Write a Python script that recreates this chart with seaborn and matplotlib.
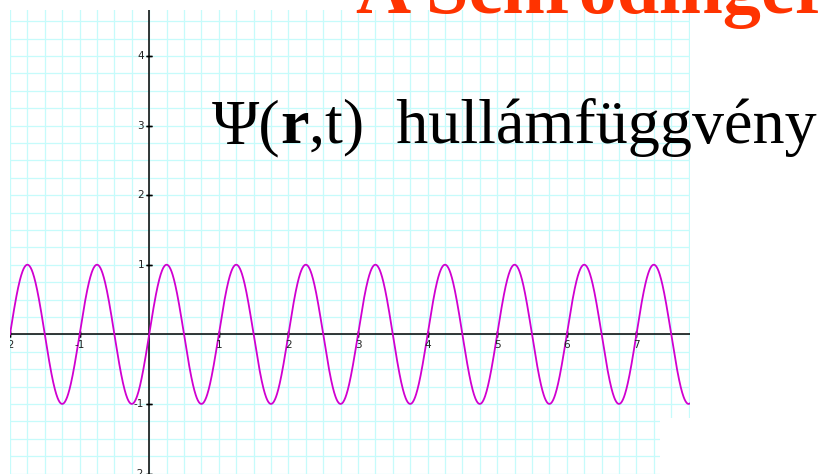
import numpy as np
import pandas as pd
import matplotlib
matplotlib.use("Agg")
import matplotlib.pyplot as plt
from matplotlib.patches import Rectangle
import seaborn as sns

# Wave parameters: psi(x) = A * sin(2*pi*x / period)
amplitude = 1.0
period = 1.0
x_range = [-2.0, 7.77]
y_range = [-2.007, 4.66]

x_tick_values = [-2, -1, 1, 2, 3, 4, 5, 6, 7]
y_tick_values = [-2, -1, 1, 2, 3, 4]
grid_step = 0.25

title_text = "A Schrödinger"
label_parts = ["Ψ(", "r", ",t)  hullámfüggvény"]

x = np.linspace(x_range[0], x_range[1], 2000)
wave = pd.DataFrame({"x": x, "psi": amplitude * np.sin(2 * np.pi * x / period)})

W, H = 823, 474
fig = plt.figure(figsize=(W / 100, H / 100), dpi=100)
fig.patch.set_facecolor("white")
ax = fig.add_axes([10 / W, 0, 680 / W, 464 / H])
ax.set_xlim(*x_range)
ax.set_ylim(*y_range)
for s in ax.spines.values():
    s.set_visible(False)

# graph-paper grid
ax.set_xticks(np.arange(x_range[0], x_range[1], grid_step))
ax.set_yticks(np.arange(-2.0, y_range[1], grid_step))
ax.tick_params(length=0, labelbottom=False, labelleft=False)
ax.grid(True, color="#c6fbfb", lw=0.9, zorder=0)
ax.set_axisbelow(True)

# coordinate axes through the origin
ax.axhline(0, color="black", lw=1.1, zorder=2)
ax.axvline(0, color="black", lw=1.1, zorder=2)

sns.lineplot(data=wave, x="x", y="psi", ax=ax, color="#d000d0", lw=1.3,
             zorder=3, sort=False)
ax.set_xlabel("")
ax.set_ylabel("")

# small cross ticks and numeric labels on the axes
tick_px = 3
for v in x_tick_values:
    ax.plot([v, v], [0, 0], marker="|", ms=2 * tick_px * 0.72, color="black",
            mew=1.0, zorder=2)
    ax.annotate(str(v), xy=(v, 0), xytext=(0, -11),
                textcoords="offset pixels", ha="center", va="center",
                fontsize=7.5, color="#222222", annotation_clip=False,
                clip_on=True, zorder=4)
for v in y_tick_values:
    ax.plot([0, 0], [v, v], marker="_", ms=2 * tick_px * 0.72, color="black",
            mew=1.0, zorder=2)
    ax.annotate(str(v), xy=(0, v), xytext=(-5, 0), textcoords="offset pixels",
                ha="right", va="center", fontsize=7.5, color="#222222",
                clip_on=True, zorder=4)

# blank corner of the sheet
fig.add_artist(Rectangle((660 / W, 0), 31 / W, 56 / H, transform=fig.transFigure,
                         facecolor="white", edgecolor="none", zorder=1))

# headline (runs off the top of the page)
fig.text(356 / W, 1 - 13 / H, title_text, fontsize=55, fontweight="bold",
         family="Liberation Serif", color="#ff3300", ha="left", va="baseline")

# wave-function caption
t1 = fig.text(212 / W, 1 - 143 / H, label_parts[0], fontsize=46.2,
              family="Liberation Serif", color="black", ha="left", va="baseline")
t2 = plt.annotate(label_parts[1], xy=(1, 0), xycoords=t1, ha="left", va="bottom",
                  fontsize=46.2, fontweight="bold", family="Liberation Serif",
                  color="black", annotation_clip=False)
t3 = plt.annotate(label_parts[2], xy=(1, 0), xycoords=t2, ha="left", va="bottom",
                  fontsize=46.2, family="Liberation Serif", color="black",
                  annotation_clip=False)

fig.savefig("out.png", dpi=100)
